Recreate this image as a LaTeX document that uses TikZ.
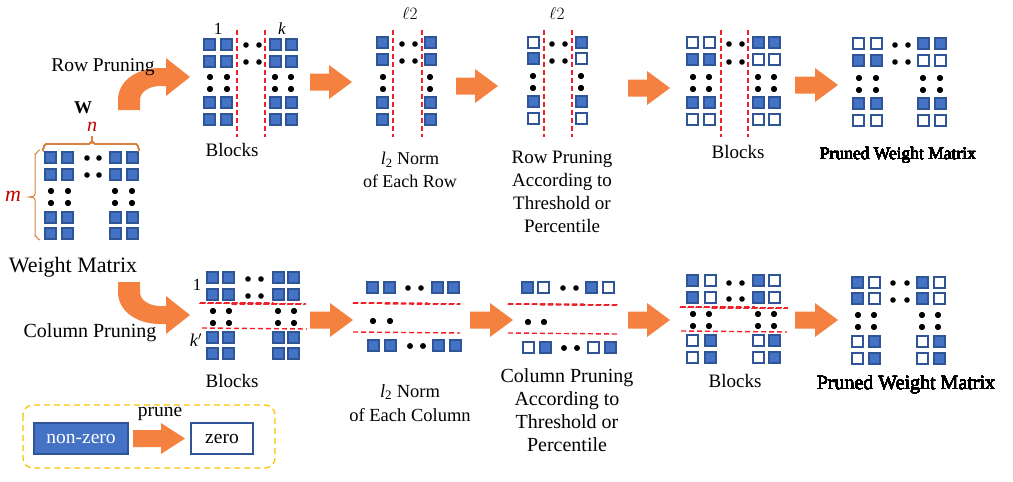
\documentclass[tikz,border=0pt]{standalone}
\usepackage{fontspec}
\setmainfont{Liberation Serif}
\definecolor{bfill}{HTML}{4472C4}
\definecolor{bdraw}{HTML}{2F5597}
\definecolor{oarr}{HTML}{F4813F}
\definecolor{rdash}{HTML}{F0202A}
\definecolor{brk}{HTML}{D9823F}
\definecolor{legd}{HTML}{FFC000}
\definecolor{mred}{HTML}{C00000}
\tikzset{
  fsq/.style={fill=bfill,draw=bdraw,line width=1.2pt},
  esq/.style={fill=white,draw=bdraw,line width=1.2pt},
  rdl/.style={draw=rdash,dash pattern=on 5pt off 3pt,line width=1.4pt},
  lbl/.style={font=\fontsize{19}{23}\selectfont,align=center,inner sep=0pt},
  oarrow/.style={fill=oarr},
}
\newcommand\Dt[2]{\fill (#1,#2) circle (2.8pt);}
\newcommand\OArr[3]{\fill[oarrow] (#1,{#3-8.5}) -- ({#2-23},{#3-8.5}) -- ({#2-23},{#3-17}) -- (#2,#3) -- ({#2-23},{#3+17}) -- ({#2-23},{#3+8.5}) -- (#1,{#3+8.5}) -- cycle;}
\begin{document}
\begin{tikzpicture}[x=1pt,y=-1pt]
\useasboundingbox (0,0) rectangle (1013,482);
% bent arrows (drawn first, labels on top)
\fill[oarrow] (118,110) -- (118,100) .. controls (118,80) and (138,68) .. (160,68) -- (166,68) -- (166,58) -- (190,77) -- (166,96) -- (166,86) -- (160,86) .. controls (149,86) and (140,92) .. (140,100) -- (140,110) -- cycle;
\fill[oarrow] (118,282) -- (118,292) .. controls (118,312) and (138,324) .. (160,324) -- (166,324) -- (166,334) -- (190,315) -- (166,296) -- (166,306) -- (160,306) .. controls (149,306) and (140,300) .. (140,292) -- (140,282) -- cycle;
% ---------------- Weight matrix ----------------
\foreach \x in {45,62,110,127} \foreach \y in {152,169,212,228} \draw[fsq] (\x,\y) rectangle ++(11,11);
\foreach \x in {87,99} \foreach \y in {158,175} \Dt{\x}{\y}
\foreach \x in {51,68,115,132} \foreach \y in {191,203} \Dt{\x}{\y}
\draw[brk,line width=1pt] (43,150) to[out=-90,in=180] (46,144) -- (89,144) to[out=0,in=-90] (92,139) to[out=-90,in=180] (95,144) -- (136,144) to[out=0,in=-90] (139,150);
\draw[brk,line width=1pt] (40,150) to[out=180,in=-90] (35,154) -- (35,194) to[out=-90,in=0] (29,197) to[out=0,in=90] (35,200) -- (35,236) to[out=90,in=180] (40,240);
\node[lbl,font=\fontsize{18}{22}\selectfont\bfseries] (W) at (83,108) {W};
\node[lbl,text=mred,font=\fontsize{20}{22}\selectfont\itshape] (n) at (92,127) {n};
\node[lbl,text=mred,font=\fontsize{22}{22}\selectfont\itshape] (m) at (13,196) {m};
\node[lbl,font=\fontsize{22}{24}\selectfont] (wm) at (73,267) {Weight Matrix};
\node[lbl,font=\fontsize{19.5}{23}\selectfont] (rp) at (103,67) {Row Pruning};
\node[lbl,font=\fontsize{20}{23}\selectfont] (cp) at (90,333) {Column Pruning};
% ---------------- Upper row ----------------
% blocks 1
\foreach \x in {204,221,270,286} \foreach \y in {39,56,97,114} \draw[fsq] (\x,\y) rectangle ++(11,11);
\foreach \x in {246,259} \foreach \y in {45,62} \Dt{\x}{\y}
\foreach \x in {210,227,275,291} \foreach \y in {77,89} \Dt{\x}{\y}
\draw[rdl] (237,30) -- (237,137);
\draw[rdl] (265,30) -- (265,137);
\node[lbl,font=\fontsize{17}{23}\selectfont] (one1) at (218,29) {1};
\node[lbl,font=\fontsize{17}{23}\selectfont\itshape] (k1) at (282,29) {k};
\node[lbl] (b1) at (232,150) {Blocks};
\OArr{310}{352}{82}
% l2 norm rows
\foreach \x in {377,425} \foreach \y in {37,54,97,114} \draw[fsq] (\x,\y) rectangle ++(11,11);
\foreach \x in {402,415} \foreach \y in {44,61} \Dt{\x}{\y}
\foreach \x in {383,430} \foreach \y in {77,89} \Dt{\x}{\y}
\draw[rdl] (393,30) -- (393,137);
\draw[rdl] (422,30) -- (422,137);
\node[lbl,font=\fontsize{17}{23}\selectfont] (l2a) at (410,13) {$\ell 2$};
\node[lbl,font=\fontsize{18}{23}\selectfont] (nr) at (410,170) {{\itshape l}\textsubscript{2} Norm\\of Each Row};
\OArr{456}{498}{86}
% threshold rows
\draw[esq] (528,37) rectangle ++(11,11);
\draw[fsq] (528,53) rectangle ++(11,11);
\draw[fsq] (528,96) rectangle ++(11,11);
\draw[esq] (528,113) rectangle ++(11,11);
\draw[fsq] (576,37) rectangle ++(11,11);
\draw[esq] (576,53) rectangle ++(11,11);
\draw[fsq] (576,96) rectangle ++(11,11);
\draw[esq] (576,113) rectangle ++(11,11);
\foreach \x in {552,565} \foreach \y in {44,61} \Dt{\x}{\y}
\foreach \x in {533,581} \foreach \y in {76,88} \Dt{\x}{\y}
\draw[rdl] (544,30) -- (544,137);
\draw[rdl] (572,30) -- (572,137);
\node[lbl,font=\fontsize{17}{23}\selectfont] (l2b) at (557,13) {$\ell 2$};
\node[lbl] (rpt) at (562,192) {Row Pruning\\According to\\Threshold or\\Percentile};
\OArr{628}{670}{88}
% blocks 2
\foreach \x/\s in {687/esq,704/esq,753/fsq,769/fsq} \draw[\s] (\x,37) rectangle ++(11,11);
\foreach \x/\s in {687/fsq,704/fsq,753/esq,769/esq} \draw[\s] (\x,54) rectangle ++(11,11);
\foreach \x in {687,704,753,769} \draw[fsq] (\x,97) rectangle ++(11,11);
\foreach \x in {687,704,753,769} \draw[esq] (\x,114) rectangle ++(11,11);
\foreach \x in {729,742} \foreach \y in {44,62} \Dt{\x}{\y}
\foreach \x in {693,709,758,774} \foreach \y in {77,89} \Dt{\x}{\y}
\draw[rdl] (721,30) -- (721,137);
\draw[rdl] (748,30) -- (748,137);
\node[lbl] (b2) at (738,152) {Blocks};
\OArr{795}{838}{85}
% pruned upper
\foreach \x/\s in {853/esq,871/esq,918/fsq,935/fsq} \draw[\s] (\x,38) rectangle ++(11,11);
\foreach \x/\s in {853/fsq,871/fsq,918/esq,935/esq} \draw[\s] (\x,55) rectangle ++(11,11);
\foreach \x in {853,871,918,935} \draw[fsq] (\x,98) rectangle ++(11,11);
\foreach \x in {853,871,918,935} \draw[esq] (\x,115) rectangle ++(11,11);
\foreach \x in {895,908} \foreach \y in {45,62} \Dt{\x}{\y}
\foreach \x in {859,876,923,940} \foreach \y in {78,90} \Dt{\x}{\y}
\node[lbl,font=\fontsize{17.5}{23}\selectfont] (pw1) at (898,155) {Pruned Weight Matrix};
% ---------------- Lower row ----------------
% blocks 1
\foreach \x in {207,223,273,288} \foreach \y in {272,289,332,348} \draw[fsq] (\x,\y) rectangle ++(11,11);
\foreach \x in {248,261} \foreach \y in {279,296} \Dt{\x}{\y}
\foreach \x in {213,229,278,294} \foreach \y in {311,323} \Dt{\x}{\y}
\draw[rdl] (200,303) -- (305,304);
\draw[rdl] (202,328) -- (307,329);
\node[lbl,font=\fontsize{17}{23}\selectfont] (one2) at (197,285) {1};
\node[lbl,font=\fontsize{18}{23}\selectfont\itshape] (k2) at (196,340) {k\/$'$};
\node[lbl] (b3) at (232,381) {Blocks};
\OArr{310}{353}{320}
% l2 norm columns
\foreach \x in {367,384,432,448} \draw[fsq] (\x,282) rectangle ++(11,11);
\foreach \x in {368,385,433,450} \draw[fsq] (\x,340) rectangle ++(11,11);
\foreach \x in {408,421} \Dt{\x}{288}
\foreach \x in {410,423} \Dt{\x}{346}
\foreach \x in {373,390} \Dt{\x}{321}
\draw[rdl] (353,303) -- (460,304);
\draw[rdl] (353,332) -- (460,333);
\node[lbl,font=\fontsize{18.5}{24}\selectfont] (nc) at (410,403) {{\itshape l}\textsubscript{2} Norm\\of Each Column};
\OArr{470}{513}{320}
% threshold columns
\foreach \x/\s in {522/fsq,538/esq,586/fsq,603/esq} \draw[\s] (\x,282) rectangle ++(11,11);
\foreach \x/\s in {523/esq,540/fsq,588/esq,605/fsq} \draw[\s] (\x,342) rectangle ++(11,11);
\foreach \x in {563,576} \Dt{\x}{288}
\foreach \x in {564,577} \Dt{\x}{348}
\foreach \x in {528,544} \Dt{\x}{322}
\draw[rdl] (508,304) -- (617,305);
\draw[rdl] (508,333) -- (617,334);
\node[lbl,font=\fontsize{20}{23}\selectfont] (cpt) at (567,410) {Column Pruning\\According to\\Threshold or\\Percentile};
\OArr{628}{670}{320}
% blocks 2 lower
\foreach \x/\s in {687/fsq,705/esq,753/fsq,769/esq} \foreach \y in {275,292} \draw[\s] (\x,\y) rectangle ++(11,11);
\foreach \x/\s in {687/esq,705/fsq,753/esq,769/fsq} \foreach \y in {335,352} \draw[\s] (\x,\y) rectangle ++(11,11);
\foreach \x in {729,742} \foreach \y in {283,299} \Dt{\x}{\y}
\foreach \x in {693,709,758,774} \foreach \y in {314,326} \Dt{\x}{\y}
\draw[rdl] (680,307) -- (787,308);
\draw[rdl] (681,331) -- (787,332);
\node[lbl] (b4) at (735,381) {Blocks};
\OArr{795}{838}{320}
% pruned lower
\foreach \x/\s in {852/fsq,869/esq,917/fsq,934/esq} \foreach \y in {277,293} \draw[\s] (\x,\y) rectangle ++(11,11);
\foreach \x/\s in {852/esq,869/fsq,917/esq,934/fsq} \foreach \y in {336,353} \draw[\s] (\x,\y) rectangle ++(11,11);
\foreach \x in {893,907} \foreach \y in {283,300} \Dt{\x}{\y}
\foreach \x in {858,874,922,938} \foreach \y in {315,327} \Dt{\x}{\y}
\node[lbl,font=\fontsize{20}{23}\selectfont] (pw2) at (906,385) {Pruned Weight Matrix};
% ---------------- Legend ----------------
\draw[legd,dash pattern=on 6pt off 4pt,line width=1.3pt,rounded corners=10pt] (23,405) rectangle (275,468);
\node[draw=bdraw,fill=bfill,line width=1.2pt,minimum width=94pt,minimum height=31pt,inner sep=0pt,text=white,font=\fontsize{19.5}{22}\selectfont] (nz) at (81,438.5) {non-zero};
\node[draw=bdraw,fill=white,line width=1.2pt,minimum width=62pt,minimum height=31pt,inner sep=0pt,font=\fontsize{19.5}{22}\selectfont] (z) at (222,438.5) {zero};
\fill[oarrow] (133,430) -- (161,430) -- (161,423) -- (185,438.5) -- (161,454) -- (161,447) -- (133,447) -- cycle;
\node[lbl,font=\fontsize{19.5}{22}\selectfont] (pr) at (160,414) {prune};
\end{tikzpicture}
\end{document}
